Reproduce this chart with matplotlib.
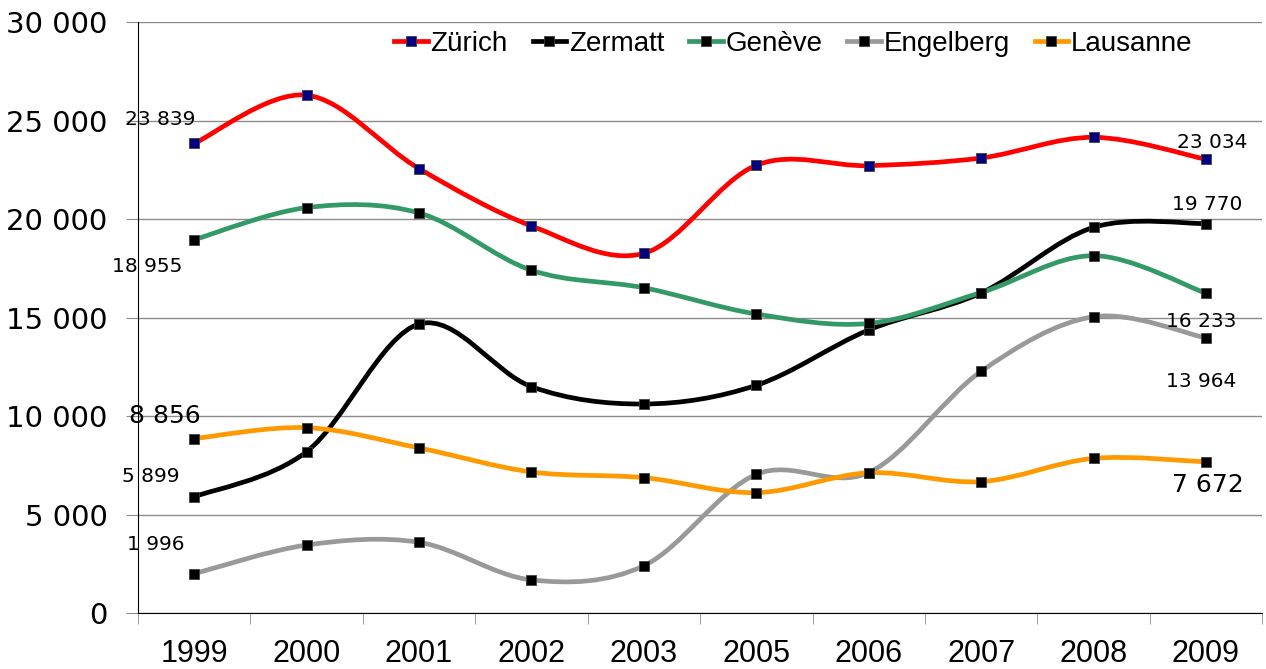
import matplotlib
matplotlib.use("Agg")
import matplotlib.pyplot as plt
from matplotlib.path import Path
from matplotlib.patches import PathPatch
from matplotlib.lines import Line2D
from matplotlib.ticker import FuncFormatter, MultipleLocator, FixedLocator

# données
years = ['1999', '2000', '2001', '2002', '2003', '2005', '2006', '2007', '2008', '2009']
zurich = [23839, 26290, 22560, 19650, 18260, 22730, 22710, 23100, 24150, 23034]
zermatt = [5899, 8190, 14670, 11490, 10610, 11560, 14370, 16250, 19580, 19770]
geneve = [18955, 20580, 20310, 17400, 16510, 15180, 14700, 16270, 18140, 16233]
engelberg = [1996, 3450, 3590, 1680, 2400, 7040, 7130, 12270, 15040, 13964]
lausanne = [8856, 9410, 8380, 7160, 6870, 6110, 7120, 6670, 7850, 7672]

series = [
    ('Zürich', zurich, '#ff0000', '#000080'),
    ('Zermatt', zermatt, '#000000', '#000000'),
    ('Genève', geneve, '#339966', '#000000'),
    ('Engelberg', engelberg, '#999999', '#000000'),
    ('Lausanne', lausanne, '#ff9900', '#000000'),
]


def smooth_path(xs, ys):
    # courbe lissée façon Excel (Catmull-Rom en Bezier)
    pts = list(zip(xs, ys))
    n = len(pts)
    verts = [pts[0]]
    codes = [Path.MOVETO]
    for i in range(n - 1):
        p0 = pts[max(i - 1, 0)]
        p1 = pts[i]
        p2 = pts[i + 1]
        p3 = pts[min(i + 2, n - 1)]
        c1 = (p1[0] + (p2[0] - p0[0]) / 6, p1[1] + (p2[1] - p0[1]) / 6)
        c2 = (p2[0] - (p3[0] - p1[0]) / 6, p2[1] - (p3[1] - p1[1]) / 6)
        verts += [c1, c2, p2]
        codes += [Path.CURVE4] * 3
    return Path(verts, codes)


fig = plt.figure(figsize=(12.66, 6.69), dpi=100)
ax = fig.add_axes([0.109, 0.0837, 0.888, 0.8833])

x = list(range(len(years)))
z = 3
for name, vals, col, mcol in series:
    ax.add_patch(PathPatch(smooth_path(x, vals), facecolor='none', edgecolor=col,
                           lw=3.4, zorder=z, capstyle='round', joinstyle='round'))
    ax.plot(x, vals, ls='none', marker='s', ms=7, mfc=mcol, mec='#404040', mew=0.6, zorder=z + 0.5)
    z += 1

ax.set_xlim(-0.5, len(years) - 0.5)
ax.set_ylim(0, 30000)

ax.yaxis.set_major_locator(MultipleLocator(5000))
ax.yaxis.set_major_formatter(FuncFormatter(lambda v, p: f'{int(v):,}'.replace(',', ' ')))
ax.grid(axis='y', color='#8c8c8c', lw=1)
ax.set_axisbelow(True)

ax.xaxis.set_major_locator(FixedLocator(x))
ax.set_xticklabels(years)
ax.xaxis.set_minor_locator(FixedLocator([i - 0.5 for i in range(len(years) + 1)]))
ax.tick_params(axis='x', which='major', length=0, pad=19, labelsize=22)
ax.tick_params(axis='x', which='minor', length=8, color='#8c8c8c', direction='out')
ax.tick_params(axis='y', length=9, color='#8c8c8c', pad=13, labelsize=21)
for lab in ax.get_xticklabels():
    lab.set_family(['Liberation Sans', 'DejaVu Sans'])

for s in ['top', 'right']:
    ax.spines[s].set_visible(False)
ax.spines['left'].set_color('black')
ax.spines['bottom'].set_color('black')

# étiquettes de valeurs
labels = [
    (0, zurich[0], -34, 24, 14.5),
    (0, geneve[0], -47, -27, 14.5),
    (0, lausanne[0], -29, 23, 18),
    (0, zermatt[0], -43, 20, 14.5),
    (0, engelberg[0], -38, 29, 14.5),
    (9, zurich[9], 6, 17, 14.5),
    (9, zermatt[9], 1, 19, 14.5),
    (9, geneve[9], -5, -28, 14.5),
    (9, engelberg[9], -5, -44, 14.5),
    (9, lausanne[9], 2, -23, 18),
]
for xi, v, dx, dy, fs in labels:
    ax.annotate(f'{v:,}'.replace(',', ' '), (xi, v), xytext=(dx, dy),
                textcoords='offset pixels', ha='center', va='center',
                fontsize=fs, zorder=10)

handles = [Line2D([], [], color=col, lw=3.4, marker='s', ms=7, mfc=mcol, mec='#404040', mew=0.6)
           for name, vals, col, mcol in series]
leg = ax.legend(handles, [s[0] for s in series], ncol=5, loc='center',
                bbox_to_anchor=(0.583, 0.963), frameon=False, handlelength=1.2,
                handletextpad=0.1, columnspacing=0.9,
                prop={'family': ['Liberation Sans'], 'size': 20})
leg.set_zorder(20)

fig.savefig('out.png', dpi=100)
